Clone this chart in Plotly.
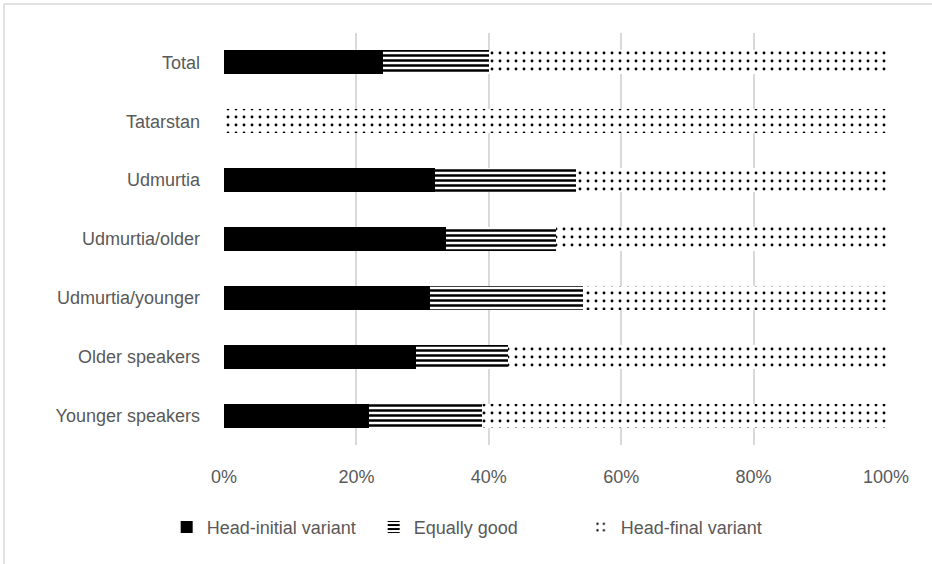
import plotly.graph_objects as go

categories = ["Total", "Tatarstan", "Udmurtia", "Udmurtia/older",
              "Udmurtia/younger", "Older speakers", "Younger speakers"]
head_initial = [24.0, 0.0, 31.9, 33.5, 31.1, 29.0, 21.9]
equally_good = [16.0, 0.0, 21.3, 16.7, 23.1, 13.9, 17.1]
head_final = [60.0, 100.0, 46.8, 49.8, 45.8, 57.1, 61.0]

W, H = 932, 564
L, R, T, B = 224, 46, 33, 119

fig = go.Figure()
fig.add_trace(go.Bar(
    y=categories, x=head_initial, name="Head-initial variant", orientation="h",
    marker=dict(color="black", line=dict(width=0)), width=0.41))
fig.add_trace(go.Bar(
    y=categories, x=equally_good, name="Equally good", orientation="h",
    marker=dict(color="white", line=dict(width=0),
                pattern=dict(shape="-", fgcolor="black", bgcolor="white",
                             size=5, solidity=0.5, fillmode="replace")),
    width=0.41))
fig.add_trace(go.Bar(
    y=categories, x=head_final, name="Head-final variant", orientation="h",
    marker=dict(color="white", line=dict(width=0),
                pattern=dict(shape=".", fgcolor="black", bgcolor="white",
                             size=8, solidity=0.1, fillmode="replace")),
    width=0.41))

pw, ph = W - L - R, H - T - B
def px2x(px):
    return (px - L) / pw
def py2y(py):
    return (H - B - py) / ph

border = "#d9d9d9"
shapes = [
    dict(type="line", xref="paper", yref="paper", x0=px2x(4), x1=px2x(4),
         y0=py2y(4), y1=py2y(600), line=dict(color=border, width=1.5)),
    dict(type="line", xref="paper", yref="paper", x0=px2x(4), x1=px2x(940),
         y0=py2y(4), y1=py2y(4), line=dict(color=border, width=1.5)),
]

fig.update_layout(
    width=W, height=H, barmode="stack",
    margin=dict(l=L, r=R, t=T, b=B),
    plot_bgcolor="white", paper_bgcolor="white",
    font=dict(family="Liberation Sans", size=18, color="#595959"),
    shapes=shapes,
    showlegend=True,
    legend=dict(orientation="h", xref="container", yref="container",
                x=0.512, xanchor="center", y=0.065, yanchor="middle",
                font=dict(size=18, color="#595959"), traceorder="normal",
                itemwidth=30, entrywidth=162, entrywidthmode="pixels"),
    xaxis=dict(range=[0, 100], tickvals=[0, 20, 40, 60, 80, 100],
               ticktext=["0%", "20%", "40%", "60%", "80%", "100%"],
               showgrid=True, gridcolor="#d9d9d9", gridwidth=1.5,
               zeroline=False, showline=False, ticks="",
               ticklabelstandoff=19, fixedrange=True),
    yaxis=dict(categoryorder="array", categoryarray=categories,
               autorange="reversed", showgrid=False, zeroline=False,
               showline=False, ticks="", ticklabelstandoff=23),
)

fig.write_html("out.html")
